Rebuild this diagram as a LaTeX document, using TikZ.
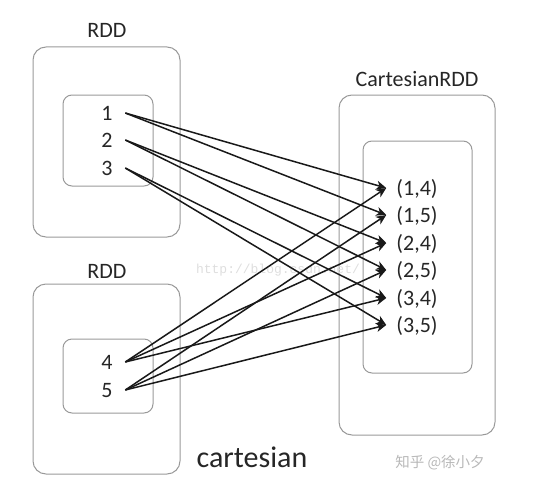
\documentclass[tikz,border=0pt]{standalone}
\usepackage{fontspec}
\setmainfont{Carlito}
\newfontfamily\cjk{Noto Sans CJK SC}
\newfontfamily\wmono{Liberation Mono}
\usetikzlibrary{arrows.meta,positioning}
\tikzset{box/.style={draw=black!40,line width=1pt,rounded corners=13pt},
  inbox/.style={draw=black!40,line width=1pt,rounded corners=9pt},
  lbl/.style={anchor=base,text=black!85,font=\fontsize{22}{25}\selectfont,inner sep=0pt},
  num/.style={lbl,text height=14pt,text depth=0pt,inner xsep=12.5pt},
  pair/.style={lbl,text height=14pt,text depth=0pt,inner xsep=10pt},
  link/.style={draw=black!90,line width=1.5pt,-{Stealth[length=10pt,width=9pt,inset=3pt]}}}

\begin{document}
\begin{tikzpicture}[x=1pt,y=-1pt]
\useasboundingbox (0,0) rectangle (534,476);
% containers
\draw [box] (33,47) rectangle (180,237);
\draw [inbox] (63,95) rectangle (153,186);
\draw [box] (33,284) rectangle (180,474);
\draw [inbox] (63,339) rectangle (153,413);
\draw [box] (339,95) rectangle (495,435);
\draw [inbox] (363,141) rectangle (472,373);
% faint watermark
\node [anchor=base,text=black!13,font=\wmono\fontsize{13}{14}\selectfont] (csdn) at (278,273) {http://blog.csdn.net/};
% titles
\node [lbl] (rddA) at (107,38) {RDD};
\node [lbl] (rddB) at (107,278) {RDD};
\node [lbl] (cart) at (417,86) {CartesianRDD};
\node [lbl,font=\fontsize{30}{33}\selectfont] (op) at (252,467) {cartesian};
\node [anchor=base,text=black!28,font=\cjk\fontsize{14.5}{16}\selectfont] (mark) at (440,467) {知乎 @徐小夕};
% elements
\node [num] (n1) at (107,120) {1};
\node [num] (n2) at (107,147) {2};
\node [num] (n3) at (107,175) {3};
\node [num] (n4) at (107,369) {4};
\node [num] (n5) at (107,397) {5};
\node [pair] (p14) at (417,195) {(1,4)};
\node [pair] (p15) at (417,222) {(1,5)};
\node [pair] (p24) at (417,250) {(2,4)};
\node [pair] (p25) at (417,277) {(2,5)};
\node [pair] (p34) at (417,305) {(3,4)};
\node [pair] (p35) at (417,332) {(3,5)};
% pairs
\foreach \a in {1,2,3}{
  \draw [link] (n\a.east) -- (p\a4.west);
  \draw [link] (n\a.east) -- (p\a5.west);
  \draw [link] (n4.east) -- (p\a4.west);
  \draw [link] (n5.east) -- (p\a5.west);
}
\end{tikzpicture}
\end{document}
